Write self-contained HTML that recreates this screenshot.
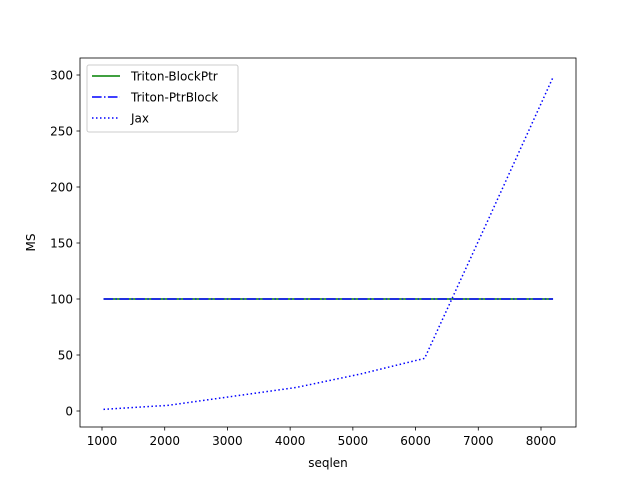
<!DOCTYPE html>
<html><head><meta charset="utf-8"><style>
body{margin:0;background:#fff;font-family:"Liberation Sans","DejaVu Sans",sans-serif}
svg text{font-family:"DejaVu Sans","Liberation Sans",sans-serif;font-size:12px;fill:#000}
</style></head><body>
<svg id="c" width="640" height="480"></svg>
<script>
const seqlen=[1024,2048,3072,4096,5120,6144,7168,8192];
const blockPtr=[100,100,100,100,100,100,100,100];
const ptrBlock=[100,100,100,100,100,100,100,100];
const jax=[1.5,5,13,21,33,47,172,298];
const xTicks=[1000,2000,3000,4000,5000,6000,7000,8000];
const yTicks=[0,50,100,150,200,250,300];
const L=80,R=576,T=58,B=427;
const xs=v=>102+(v-1000)*(541-102)/7000;
const ys=v=>411-v*(411-75)/300;
const svg=document.getElementById('c');const NS='http://www.w3.org/2000/svg';
function el(t,a,p){const e=document.createElementNS(NS,t);for(const k in a)e.setAttribute(k,a[k]);(p||svg).appendChild(e);return e;}
let f=el('rect',{x:L,y:T,width:R-L,height:B-T,fill:'none',stroke:'#000','stroke-width':0.8});


xTicks.forEach(v=>{const x=xs(v);
 const t=el('line',{x1:x,x2:x,y1:B,y2:B+3.5,stroke:'#000','stroke-width':0.8});
 
 
 const l=el('text',{x:x,y:B+18,'text-anchor':'middle'});l.textContent=v;
 
 });
yTicks.forEach(v=>{const y=ys(v);
 const t=el('line',{x1:L-3.5,x2:L,y1:y,y2:y,stroke:'#000','stroke-width':0.8});
 
 
 const l=el('text',{x:L-7,y:y+4.5,'text-anchor':'end'});l.textContent=v;
 
 });
let xt=el('text',{x:(L+R)/2,y:467,'text-anchor':'middle'});xt.textContent='seqlen';


let yt=el('text',{x:35,y:(T+B)/2,'text-anchor':'middle',transform:`rotate(-90 35 ${(T+B)/2})`});yt.textContent='MS';


function line(data,color,dash,name){const p=el('polyline',{points:seqlen.map((x,i)=>xs(x)+','+ys(data[i])).join(' '),fill:'none',stroke:color,'stroke-width':1.5,'stroke-dasharray':dash});
 
 }
line(blockPtr,'green','none','line-triton-blockptr');
line(ptrBlock,'blue','9.6,2.4,1.5,2.4','line-triton-ptrblock');
line(jax,'blue','1.5,2.5','line-jax');
const lg=el('g',{});


el('rect',{x:87,y:65,width:151,height:67,rx:2,fill:'#fff','fill-opacity':0.8,stroke:'#ccc'},lg);
const items=[['Triton-BlockPtr','green','none'],['Triton-PtrBlock','blue','9.6,2.4,1.5,2.4'],['Jax','blue','1.5,2.5']];
items.forEach((it,i)=>{const y=76+i*21;
 const g=el('g',{},lg);
 
 
 el('line',{x1:92,x2:120,y1:y,y2:y,stroke:it[1],'stroke-width':1.5,'stroke-dasharray':it[2]},g);
 const t=el('text',{x:131,y:y+4.5},g);t.textContent=it[0];});
</script></body></html>
